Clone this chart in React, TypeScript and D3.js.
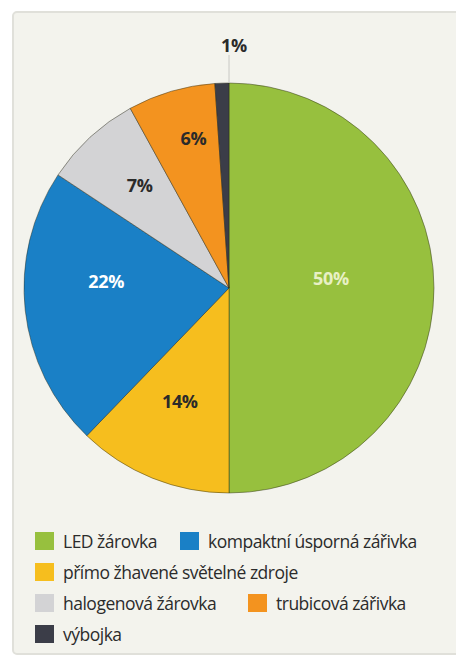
import React from "react";
import * as d3 from "d3";

const categories = [
  "LED žárovka",
  "přímo žhavené světelné zdroje",
  "kompaktní úsporná zářivka",
  "halogenová žárovka",
  "trubicová zářivka",
  "výbojka",
];
// slice sizes as drawn in the picture
const values = [50, 12.2, 22.1, 7.7, 6.9, 1.1];
// printed labels
const labels = ["50%", "14%", "22%", "7%", "6%", "1%"];
const colors = ["#97c03e", "#f6be1e", "#1a80c6", "#d3d3d5", "#f3931f", "#3b3d48"];
const labelColors = ["#e8f0c4", "#2a2a2a", "#ffffff", "#2a2a2a", "#2a2a2a", "#2a2a2a"];
// legend layout rows: [index, ...]
const legendRows = [[0, 2], [1], [3, 4], [5]];

export default function App() {
  const W = 456, H = 665;
  const cx = 229, cy = 288, r = 205;
  const pie = d3.pie<number>().sort(null).value((d) => d);
  const arcs = pie(values);
  const arcGen = d3.arc<d3.PieArcDatum<number>>().innerRadius(0).outerRadius(r);
  const labelRadius = [0.5, 0.6, 0.6, 0.665, 0.75, 1.17];
  const labelAngleOffset = [-5.6, 1.6, 9.8, 1.7, 3, 0];
  const font = "'Open Sans', 'Liberation Sans', sans-serif";
  const rowY = [541, 572, 603, 634];
  const colX = [[35, 180], [35], [35, 248], [35]];
  return (
    <svg width={W} height={H} style={{ position: "absolute", left: 0, top: 0 }} xmlns="http://www.w3.org/2000/svg">
      <rect x={0} y={0} width={W} height={H} fill="#ffffff" />
      <rect x={13} y={12} width={460} height={642} rx={4} fill="#f3f3ed" stroke="#e0e0da" strokeWidth={2} />
      <g transform={`translate(${cx},${cy})`}>
        {arcs.map((a, i) => (
          <path key={i} d={arcGen(a) || ""} fill={colors[i]} stroke="rgba(40,40,20,0.45)" strokeWidth={1} />
        ))}
        <line x1={0} x2={0} y1={-r - 28} y2={-r} stroke="#c8c8c4" strokeWidth={1} />
        {arcs.map((a, i) => {
          const mid = (a.startAngle + a.endAngle) / 2 + (labelAngleOffset[i] * Math.PI) / 180;
          let x = Math.sin(mid) * r * labelRadius[i];
          let y = -Math.cos(mid) * r * labelRadius[i];
          if (i === 5) { x = 5; y = -r - 38; }
          return (
            <text key={i} x={x} y={y} textAnchor="middle" dominantBaseline="central"
              fontFamily={font} fontWeight={700} fontSize={18} fill={labelColors[i]} letterSpacing={-0.3}>
              {labels[i]}
            </text>
          );
        })}
      </g>
      {legendRows.map((row, ri) =>
        row.map((idx, ci) => (
          <g key={`${ri}-${ci}`} transform={`translate(${colX[ri][ci]},${rowY[ri]})`}>
            <rect x={0} y={-9} width={19} height={18} fill={colors[idx]} />
            <text x={28} y={0} dominantBaseline="central" fontFamily={font}
              fontSize={17.5} fill="#2b2b2b" letterSpacing={-0.5}>
              {categories[idx]}
            </text>
          </g>
        ))
      )}
    </svg>
  );
}
